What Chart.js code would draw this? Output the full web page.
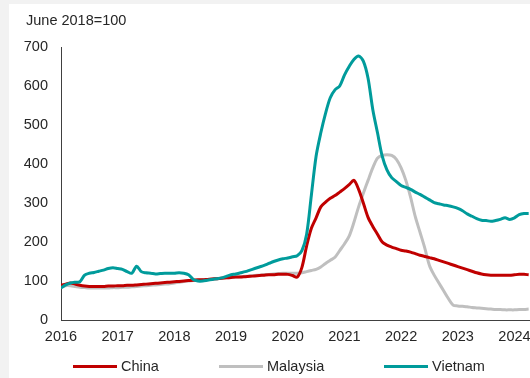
<!DOCTYPE html>
<html>
<head>
<meta charset="utf-8">
<script src="https://cdn.jsdelivr.net/npm/chart.js@4"></script>
<style>
  html, body { margin: 0; padding: 0; overflow: hidden; background: #f2f2f2; width: 530px; height: 378px; }
  #marco { position: absolute; left: 9px; top: 4px; width: 531px; height: 374px; background: #fff; }
  #grafico { display: block; }
  .leyenda { position: absolute; top: 357px; height: 18px; font: 14.5px "Liberation Sans", Arial, sans-serif; color: #262626; }
  .leyenda span.linea { position: absolute; left: 0; top: 8px; width: 44px; height: 3px; }
  .leyenda span.texto { position: absolute; left: 48px; top: 0; line-height: 18px; white-space: nowrap; }
</style>
</head>
<body>
<div id="marco"><canvas id="grafico" width="531" height="374"></canvas></div>
<div id="leyendas"></div>
<script>
// =====================
// Datos (mensuales desde ene-2016, índice junio 2018 = 100)
// =====================
const mesInicial = 2016;
const anios = [2016, 2017, 2018, 2019, 2020, 2021, 2022, 2023, 2024];
const ticksY = [0, 100, 200, 300, 400, 500, 600, 700];
const series = ["China", "Malaysia", "Vietnam"];

const china = [
  89, 92, 95, 92, 89, 87, 86, 86, 86, 86, 87, 87,
  88, 88, 89, 89, 90, 91, 92, 93, 94, 95, 96, 97,
  98, 99, 100, 101, 102, 103, 103, 104, 105, 106, 107, 108,
  109, 110, 110, 111, 112, 113, 114, 115, 116, 116, 117, 117,
  117, 114, 110, 135, 190, 235, 262, 290, 302, 312, 319, 328,
  337, 347, 358, 335, 300, 263, 240, 220, 200, 192, 187, 183,
  179, 177, 174, 170, 166, 163, 160, 157, 153, 149, 145, 141,
  137, 133, 129, 125, 121, 118, 116, 115, 115, 115, 115, 115,
  116, 117, 117, 116
];

const malaysia = [
  84, 88, 88, 86, 84, 83, 82, 82, 82, 82, 82, 83,
  83, 84, 84, 85, 86, 87, 88, 89, 90, 91, 92, 93,
  95, 97, 99, 100, 101, 102, 103, 104, 105, 106, 107, 108,
  109, 110, 111, 112, 113, 114, 115, 116, 117, 118, 119, 120,
  120, 120, 120, 121, 124, 127, 130, 136, 145, 153, 161, 178,
  195, 215, 250, 290, 325, 358, 390, 415, 422, 424, 422, 412,
  390, 358, 315, 265, 225, 185, 140, 115, 95, 75, 55, 38,
  36, 35, 34, 32, 31, 30, 29, 28, 27, 27, 26, 26,
  26, 27, 27, 28
];

const vietnam = [
  82, 90, 95, 97, 98, 115, 120, 122, 125, 128, 132, 134,
  132, 130, 124, 120, 138, 124, 121, 120, 118, 119, 120, 120,
  120, 121, 120, 116, 104, 100, 100, 102, 104, 106, 108, 112,
  116, 118, 121, 124, 128, 132, 136, 140, 145, 150, 154, 157,
  159, 162, 165, 178, 220, 320, 420, 480, 530, 570, 590, 600,
  628, 650, 668, 677, 664, 620, 540, 480, 420, 385, 365, 355,
  345, 340, 335, 328, 322, 315, 308, 301, 298, 295, 293, 290,
  286, 280, 272, 266, 260, 256, 255, 253, 255, 258, 262, 258,
  262, 270, 273, 273
];

const colores = ["#c00000", "#bfbfbf", "#009b9b"];
const valores = [china, malaysia, vietnam];
const orden = [1, 2, 0]; // Vietnam arriba, Malaysia al fondo

const fuente = '"Liberation Sans", Arial, sans-serif';
const colorTexto = "#262626";

// meses -> años decimales para la escala lineal
function aPuntos(arr) {
  return arr.map((v, i) => ({ x: mesInicial + i / 12, y: v }));
}

// =====================
// Título del eje
// =====================
const tituloEje = {
  id: "tituloEje",
  afterDraw(chart) {
    const ctx = chart.ctx;
    ctx.save();
    ctx.font = "14.5px " + fuente;
    ctx.fillStyle = colorTexto;
    ctx.textBaseline = "middle";
    ctx.textAlign = "left";
    ctx.fillText("June 2018=100", 17, 17);
    ctx.restore();
  }
};

// =====================
// Gráfico
// =====================
new Chart(document.getElementById("grafico"), {
  type: "line",
  data: {
    datasets: series.map((nombre, i) => ({
      label: nombre,
      data: aPuntos(valores[i]),
      borderColor: colores[i],
      backgroundColor: colores[i],
      borderWidth: 3,
      pointRadius: 0,
      tension: 0.3,
      order: orden[i]
    }))
  },
  options: {
    responsive: false,
    animation: false,
    layout: { padding: { top: 43, left: 0, right: 0, bottom: 0 } },
    plugins: {
      legend: { display: false },
      tooltip: { enabled: false }
    },
    scales: {
      x: {
        type: "linear",
        min: 2016,
        max: 2024.45,
        grid: { display: false, drawTicks: false },
        border: { display: true, color: "#404040", width: 1 },
        afterBuildTicks: s => { s.ticks = anios.map(v => ({ value: v })); },
        afterFit: s => { s.height = 58; },
        ticks: {
          padding: 8,
          maxRotation: 0,
          color: colorTexto,
          font: { family: fuente, size: 14.5 },
          callback: v => String(v)
        }
      },
      y: {
        min: 0,
        max: 700,
        grid: { display: false, drawTicks: false },
        border: { display: true, color: "#404040", width: 1 },
        afterBuildTicks: s => { s.ticks = ticksY.map(v => ({ value: v })); },
        afterFit: s => { s.width = 52; },
        ticks: {
          padding: 13,
          color: colorTexto,
          font: { family: fuente, size: 14.5 }
        }
      }
    }
  },
  plugins: [tituloEje]
});

// =====================
// Leyenda
// =====================
const posLeyenda = [73, 219, 384];
const leyendas = document.getElementById("leyendas");
series.forEach((nombre, i) => {
  const div = document.createElement("div");
  div.className = "leyenda";
  div.style.left = posLeyenda[i] + "px";
  div.innerHTML = `<span class="linea" style="background:${colores[i]}"></span><span class="texto">${nombre}</span>`;
  leyendas.appendChild(div);
});
</script>
</body>
</html>
